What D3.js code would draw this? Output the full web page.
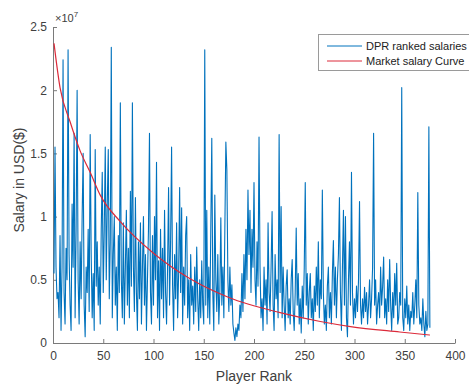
<!DOCTYPE html>
<html>
<head>
<meta charset="utf-8">
<script src="https://cdn.jsdelivr.net/npm/d3@7"></script>
<style>
  html,body{margin:0;padding:0;background:#fff;}
  svg{display:block;font-family:"Liberation Sans",Arial,sans-serif;}
</style>
</head>
<body>
<svg id="chart" width="469" height="385"></svg>
<script>
// ---- data (salaries in units of 1e7 USD) ----
const salaries = [
  // 1-25
  0.55,1.55,0.6,0.35,0.4,0.2,0.85,0.1,0.6,2.24,0.4,0.15,0.75,0.5,2.32,0.7,0.3,0.1,1.1,0.6,1.66,0.2,0.9,2.0,0.5,
  // 26-50
  0.15,0.8,0.35,1.0,1.5,0.3,0.05,0.6,0.4,0.9,0.25,1.65,0.7,0.2,0.55,0.1,1.53,0.45,0.8,0.3,0.6,0.15,0.9,1.35,0.4,
  // 51-75
  0.9,1.55,0.5,1.1,1.53,0.35,0.8,2.34,0.2,0.7,1.0,0.3,0.6,0.1,0.85,0.4,1.9,0.5,0.2,0.95,0.15,0.6,1.05,0.3,0.75,
  // 76-100
  0.2,1.2,0.45,1.9,0.6,0.25,1.15,0.4,0.1,0.8,0.35,0.95,0.15,0.6,1.0,0.3,0.7,0.1,0.5,0.9,1.66,0.4,0.15,0.85,0.3,
  // 101-125
  1.0,0.5,1.43,0.2,0.65,0.1,0.9,0.35,0.75,0.2,1.05,0.4,0.15,0.6,1.23,0.3,0.8,1.55,0.45,0.1,0.7,0.35,0.95,0.2,0.55,
  // 126-150
  1.23,0.4,1.07,0.15,0.6,0.3,0.85,1.0,0.2,0.5,0.1,0.7,0.3,0.45,0.15,0.6,0.25,0.76,0.35,0.1,0.5,0.2,0.65,0.3,0.15,
  // 151-175
  2.32,0.3,1.05,0.2,0.6,0.15,0.9,1.62,0.4,0.1,1.17,0.5,0.25,0.7,0.15,0.4,0.99,0.3,0.6,0.2,0.9,1.59,1.37,0.5,0.25,
  // 176-200
  0.6,0.3,0.46,0.15,0.08,0.02,0.12,0.05,0.15,0.1,0.3,0.2,0.55,0.25,0.7,0.35,0.9,0.5,1.21,0.7,1.05,0.4,0.9,0.6,1.27,
  // 201-225
  0.5,0.3,0.8,0.45,1.63,0.6,0.2,0.35,0.1,0.6,0.3,0.5,0.15,0.95,0.4,0.25,0.6,1.04,0.3,0.1,0.7,0.35,0.5,0.2,1.65,
  // 226-250
  0.4,1.08,0.2,0.6,0.3,0.1,0.45,0.58,0.2,0.35,0.15,0.5,0.66,0.25,0.1,0.4,0.91,0.3,0.55,0.15,0.35,0.08,0.45,0.2,0.6,
  // 251-275
  1.27,0.3,0.55,0.15,0.4,0.55,0.2,0.35,0.1,0.45,0.25,0.6,0.3,0.8,0.2,0.5,0.35,1.21,0.4,0.15,0.3,0.1,0.45,0.6,0.2,
  // 276-300
  0.4,0.15,0.55,0.81,0.3,0.6,0.2,0.5,0.7,1.15,0.4,0.1,0.6,1.05,0.3,1.0,0.2,0.05,0.5,0.8,0.3,1.35,0.4,0.15,0.35,
  // 301-325
  0.2,0.45,0.25,0.5,1.12,0.3,0.15,0.35,0.2,0.44,0.25,0.4,0.15,0.3,0.5,0.2,0.35,0.6,1.66,0.3,0.5,0.15,0.3,0.4,0.2,
  // 326-350
  0.6,0.3,0.45,0.68,0.2,0.35,0.15,0.5,0.25,0.66,0.3,0.1,0.4,0.2,0.55,0.3,0.63,0.15,0.2,0.4,0.3,2.02,0.2,0.1,0.35,
  // 351-375
  0.2,0.45,0.15,0.3,0.1,0.25,0.2,0.4,0.15,0.3,0.5,0.2,1.19,0.3,0.15,0.2,0.1,0.35,0.15,0.05,0.25,0.1,0.15,1.71,0.12
];
const curveRanks  = [1, 7, 17, 27, 37, 47, 67, 100, 136, 175, 226, 266, 296, 345, 375];
const curveValues = [2.37, 2.02, 1.75, 1.52, 1.35, 1.17, 0.96, 0.71, 0.51, 0.36, 0.24, 0.17, 0.13, 0.087, 0.063];
const xTicks = [0, 50, 100, 150, 200, 250, 300, 350, 400];
const yTicks = [0, 0.5, 1, 1.5, 2, 2.5];
const seriesNames = ['DPR ranked salaries', 'Market salary Curve'];
const colors = ['#0072BD', '#dc2a3a'];

// ---- chart ----
const svg = d3.select('#chart');
const x = d3.scaleLinear().domain([0, 400]).range([53, 455]);
const y = d3.scaleLinear().domain([0, 2.5]).range([343, 27]);

const axisCol = '#7a7a7a', textCol = '#404040';

const gx = svg.append('g').attr('transform', 'translate(0,343)')
  .call(d3.axisBottom(x).tickValues(xTicks).tickFormat(d3.format('d')).tickSizeInner(-4).tickSizeOuter(0).tickPadding(8));
const gy = svg.append('g').attr('transform', 'translate(53,0)')
  .call(d3.axisLeft(y).tickValues(yTicks).tickFormat(d => d === 0 ? '0' : String(d)).tickSizeInner(-4).tickSizeOuter(0).tickPadding(6));
[gx, gy].forEach(g => {
  g.select('.domain').attr('stroke', axisCol);
  g.selectAll('.tick line').attr('stroke', axisCol);
  g.selectAll('.tick text').attr('fill', textCol).style('font-size', '12px').style('font-family', '"Liberation Sans",Arial,sans-serif');
});

// exponent label
const ex = svg.append('text').attr('x', 55).attr('y', 22).attr('fill', textCol)
  .style('font-size', '11px');
ex.append('tspan').text('\u00d710');
ex.append('tspan').attr('dy', -5).style('font-size', '8px').text('7');

// axis titles
svg.append('text').attr('x', 254).attr('y', 381).attr('text-anchor', 'middle')
  .attr('fill', textCol).style('font-size', '14px').text('Player Rank');
svg.append('text').attr('transform', 'translate(24,180) rotate(-90)').attr('text-anchor', 'middle')
  .attr('fill', textCol).style('font-size', '14px').text('Salary in USD($)');

// blue series
const line = d3.line().x((d, i) => x(i + 1)).y(d => y(d));
svg.append('path').datum(salaries).attr('d', line)
  .attr('fill', 'none').attr('stroke', colors[0]).attr('stroke-width', 1.1).attr('stroke-linejoin', 'round');

// red market curve
const curve = d3.line().x(d => x(d[0])).y(d => y(d[1])).curve(d3.curveMonotoneX);
svg.append('path').datum(d3.zip(curveRanks, curveValues)).attr('d', curve)
  .attr('fill', 'none').attr('stroke', colors[1]).attr('stroke-width', 1.2);

// legend (box runs off the right edge as in the reference)
const lg = svg.append('g');
lg.append('rect').attr('x', 318.5).attr('y', 34.5).attr('width', 160).attr('height', 36)
  .attr('fill', '#fff').attr('stroke', '#9a9a9a');
seriesNames.forEach((name, i) => {
  const ly = 46 + i * 15;
  lg.append('line').attr('x1', 327).attr('x2', 362).attr('y1', ly).attr('y2', ly)
    .attr('stroke', colors[i]).attr('stroke-width', 1);
  lg.append('text').attr('x', 366).attr('y', ly + 4).attr('fill', '#222')
    .style('font-size', '11px').text(name);
});
</script>
</body>
</html>
